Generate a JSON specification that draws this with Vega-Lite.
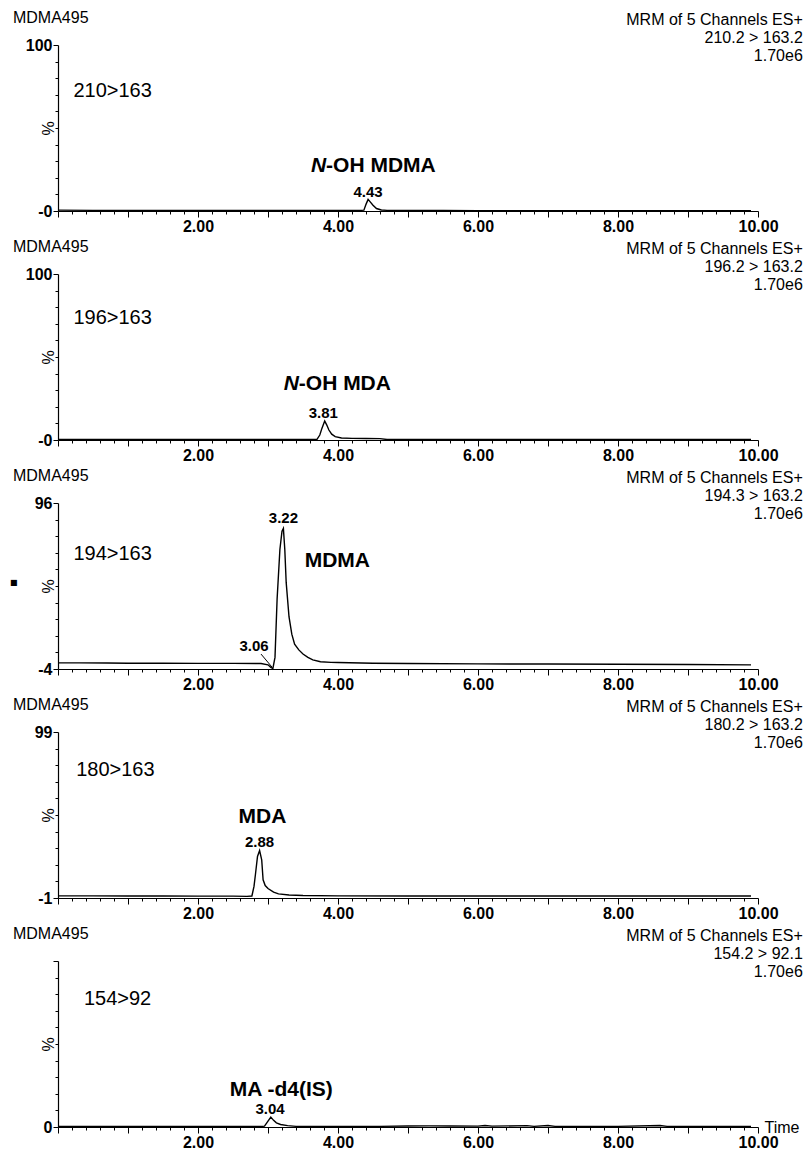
{
  "$schema": "https://vega.github.io/schema/vega-lite/v6.json",
  "padding": {"left": 10, "top": 10, "right": 4, "bottom": 4},
  "bounds": "flush",
  "spacing": 63,
  "config": {
    "font": "Liberation Sans",
    "view": {"stroke": null},
    "axis": {"domainColor": "black", "tickColor": "black", "labelColor": "black", "titleColor": "black", "grid": false, "labelFont": "Liberation Sans", "titleFont": "Liberation Sans", "domainWidth": 1.2, "tickWidth": 1},
    "text": {"color": "black", "font": "Liberation Sans"},
    "title": {"color": "black", "font": "Liberation Sans"}
  },
  "datasets": {
    "trace": [
      {"p":1,"t":0,"v":0.5},{"p":1,"t":0.5,"v":0.4},{"p":1,"t":1,"v":0.4},{"p":1,"t":1.5,"v":0.3},{"p":1,"t":2,"v":0.3},{"p":1,"t":2.5,"v":0.3},{"p":1,"t":3,"v":0.3},{"p":1,"t":3.5,"v":0.3},{"p":1,"t":4,"v":0.3},{"p":1,"t":4.3,"v":0.3},{"p":1,"t":4.37,"v":0.5},{"p":1,"t":4.4,"v":4},{"p":1,"t":4.43,"v":7},{"p":1,"t":4.46,"v":5.5},{"p":1,"t":4.5,"v":3.5},{"p":1,"t":4.55,"v":1.5},{"p":1,"t":4.62,"v":0.6},{"p":1,"t":4.7,"v":0.4},{"p":1,"t":5,"v":0.3},{"p":1,"t":5.5,"v":0.3},{"p":1,"t":6,"v":0.2},{"p":1,"t":7,"v":0.2},{"p":1,"t":8,"v":0.2},{"p":1,"t":9,"v":0.2},{"p":1,"t":9.9,"v":0.2},
      {"p":2,"t":0,"v":0.3},{"p":2,"t":1,"v":0.3},{"p":2,"t":2,"v":0.3},{"p":2,"t":3,"v":0.3},{"p":2,"t":3.5,"v":0.3},{"p":2,"t":3.7,"v":0.4},{"p":2,"t":3.74,"v":3},{"p":2,"t":3.77,"v":7},{"p":2,"t":3.81,"v":11.5},{"p":2,"t":3.84,"v":9},{"p":2,"t":3.87,"v":6},{"p":2,"t":3.91,"v":3.5},{"p":2,"t":3.96,"v":2},{"p":2,"t":4.05,"v":1.2},{"p":2,"t":4.2,"v":1},{"p":2,"t":4.4,"v":0.9},{"p":2,"t":4.6,"v":0.8},{"p":2,"t":4.7,"v":0.3},{"p":2,"t":5,"v":0.3},{"p":2,"t":6,"v":0.3},{"p":2,"t":7,"v":0.3},{"p":2,"t":8,"v":0.3},{"p":2,"t":9,"v":0.3},{"p":2,"t":9.9,"v":0.3},
      {"p":3,"t":0,"v":-0.3},{"p":3,"t":0.3,"v":-0.3},{"p":3,"t":0.7,"v":-0.4},{"p":3,"t":1,"v":-0.5},{"p":3,"t":1.5,"v":-0.5},{"p":3,"t":2,"v":-0.6},{"p":3,"t":2.5,"v":-0.6},{"p":3,"t":2.9,"v":-0.7},{"p":3,"t":3,"v":-1.5},{"p":3,"t":3.04,"v":-3},{"p":3,"t":3.07,"v":-3.7},{"p":3,"t":3.1,"v":3},{"p":3,"t":3.13,"v":38},{"p":3,"t":3.17,"v":68},{"p":3,"t":3.2,"v":79},{"p":3,"t":3.22,"v":80.7},{"p":3,"t":3.24,"v":68},{"p":3,"t":3.26,"v":48},{"p":3,"t":3.3,"v":27.5},{"p":3,"t":3.34,"v":17},{"p":3,"t":3.38,"v":11},{"p":3,"t":3.44,"v":7.5},{"p":3,"t":3.5,"v":5},{"p":3,"t":3.57,"v":3},{"p":3,"t":3.64,"v":1.5},{"p":3,"t":3.75,"v":0.4},{"p":3,"t":3.9,"v":0},{"p":3,"t":4,"v":-0.1},{"p":3,"t":4.5,"v":-0.5},{"p":3,"t":5,"v":-0.7},{"p":3,"t":6,"v":-0.9},{"p":3,"t":7,"v":-1},{"p":3,"t":8,"v":-1.1},{"p":3,"t":9,"v":-1.3},{"p":3,"t":9.9,"v":-1.5},
      {"p":4,"t":0,"v":0.3},{"p":4,"t":0.5,"v":0.3},{"p":4,"t":1,"v":0.2},{"p":4,"t":1.5,"v":0.2},{"p":4,"t":2,"v":0.1},{"p":4,"t":2.5,"v":0.1},{"p":4,"t":2.7,"v":0},{"p":4,"t":2.77,"v":0.2},{"p":4,"t":2.8,"v":6},{"p":4,"t":2.82,"v":13},{"p":4,"t":2.85,"v":24},{"p":4,"t":2.88,"v":27.6},{"p":4,"t":2.91,"v":22},{"p":4,"t":2.93,"v":10},{"p":4,"t":2.96,"v":6.5},{"p":4,"t":3,"v":4.7},{"p":4,"t":3.08,"v":2.5},{"p":4,"t":3.15,"v":1.5},{"p":4,"t":3.3,"v":0.8},{"p":4,"t":3.5,"v":0.5},{"p":4,"t":4,"v":0.3},{"p":4,"t":5,"v":0.2},{"p":4,"t":6,"v":0.2},{"p":4,"t":7,"v":0.2},{"p":4,"t":8,"v":0.2},{"p":4,"t":9,"v":0.2},{"p":4,"t":9.9,"v":0.2},
      {"p":5,"t":0,"v":0.3},{"p":5,"t":1,"v":0.3},{"p":5,"t":2,"v":0.3},{"p":5,"t":2.9,"v":0.3},{"p":5,"t":2.95,"v":0.5},{"p":5,"t":3,"v":3.5},{"p":5,"t":3.04,"v":6},{"p":5,"t":3.08,"v":4},{"p":5,"t":3.12,"v":2.5},{"p":5,"t":3.18,"v":1.5},{"p":5,"t":3.28,"v":0.8},{"p":5,"t":3.4,"v":0.4},{"p":5,"t":4,"v":0.3},{"p":5,"t":4.6,"v":0.4},{"p":5,"t":5,"v":0.6},{"p":5,"t":5.3,"v":0.7},{"p":5,"t":5.6,"v":0.6},{"p":5,"t":6,"v":0.5},{"p":5,"t":6.1,"v":0.9},{"p":5,"t":6.2,"v":0.5},{"p":5,"t":6.7,"v":0.8},{"p":5,"t":6.8,"v":0.4},{"p":5,"t":7,"v":0.9},{"p":5,"t":7.1,"v":0.4},{"p":5,"t":8,"v":0.4},{"p":5,"t":8.6,"v":0.9},{"p":5,"t":8.7,"v":0.4},{"p":5,"t":9.5,"v":0.3},{"p":5,"t":9.9,"v":0.3}
    ]
  },
  "vconcat": [
    {
      "width": 700, "height": 166,
      "resolve": {"axis": {"x": "independent", "y": "independent"}},
      "layer": [
        {
          "data": {"name": "trace"},
          "transform": [{"filter": "datum.p == 1"}],
          "mark": {"type": "line", "color": "black", "strokeWidth": 1.4},
          "encoding": {
            "x": {"field": "t", "type": "quantitative", "scale": {"domain": [0, 10], "nice": false, "zero": false},
              "axis": {"title": null, "values": [0,0.2,0.4,0.6,0.8,1,1.2,1.4,1.6,1.8,2,2.2,2.4,2.6,2.8,3,3.2,3.4,3.6,3.8,4,4.2,4.4,4.6,4.8,5,5.2,5.4,5.6,5.8,6,6.2,6.4,6.6,6.8,7,7.2,7.4,7.6,7.8,8,8.2,8.4,8.6,8.8,9,9.2,9.4,9.6,9.8,10],
                "labelExpr": "datum.value > 0.5 && abs(datum.value/2 - round(datum.value/2)) < 0.01 ? format(datum.value, '.2f') : ''",
                "labelOverlap": false, "labelFlush": false, "labelFontSize": 16, "labelFontWeight": "bold", "labelPadding": 1,
                "tickSize": {"condition": {"test": "abs(datum.value - round(datum.value)) < 0.01", "value": 6}, "value": 3}}},
            "y": {"field": "v", "type": "quantitative", "scale": {"domain": [0, 100], "nice": false, "zero": false},
              "axis": {"title": "%", "titleX": -10, "titleY": 83, "titleFontSize": 16, "titleFontWeight": "normal", "titleBaseline": "middle", "titleAlign": "center",
                "values": [0,10,20,30,40,50,60,70,80,90,100],
                "labelExpr": "datum.value == 100 ? '100' : datum.value == 0 ? '-0' : ''",
                "labelOverlap": false, "labelFlush": false, "labelFontSize": 16, "labelFontWeight": "bold", "labelPadding": 1,
                "tickSize": {"condition": {"test": "datum.value == 0 || datum.value == 100", "value": 5}, "value": 3}}}
          }
        },
        {"data": {"values": [{}]}, "mark": {"type": "text", "align": "left", "baseline": "middle", "fontSize": 16, "dy": -27},
          "encoding": {"x": {"datum": -0.643, "axis": null}, "y": {"datum": 100, "axis": null}, "text": {"value": "MDMA495"}}},
        {"data": {"values": [{}]}, "mark": {"type": "text", "align": "left", "baseline": "middle", "fontSize": 20},
          "encoding": {"x": {"datum": 0.22, "axis": null}, "y": {"datum": 72, "axis": null}, "text": {"value": "210>163"}}},
        {"data": {"values": [{}]}, "mark": {"type": "text", "align": "right", "baseline": "middle", "fontSize": 21, "fontWeight": "bold", "fontStyle": "italic"},
          "encoding": {"x": {"datum": 3.83, "axis": null}, "y": {"datum": 27.4, "axis": null}, "text": {"value": "N"}}},
        {"data": {"values": [{}]}, "mark": {"type": "text", "align": "left", "baseline": "middle", "fontSize": 21, "fontWeight": "bold"},
          "encoding": {"x": {"datum": 3.83, "axis": null}, "y": {"datum": 27.4, "axis": null}, "text": {"value": "-OH MDMA"}}},
        {"data": {"values": [{}]}, "mark": {"type": "text", "align": "center", "baseline": "middle", "fontSize": 15, "fontWeight": "bold"},
          "encoding": {"x": {"datum": 4.43, "axis": null}, "y": {"datum": 11.5, "axis": null}, "text": {"value": "4.43"}}},
        {"data": {"values": [{}]}, "mark": {"type": "text", "align": "right", "baseline": "middle", "fontSize": 16, "lineHeight": 18, "dy": -25},
          "encoding": {"x": {"datum": 10.64, "axis": null}, "y": {"datum": 100, "axis": null}, "text": {"value": ["MRM of 5 Channels ES+", "210.2 > 163.2", "1.70e6"]}}}
      ]
    },
    {
      "width": 700, "height": 166,
      "resolve": {"axis": {"x": "independent", "y": "independent"}},
      "layer": [
        {
          "data": {"name": "trace"},
          "transform": [{"filter": "datum.p == 2"}],
          "mark": {"type": "line", "color": "black", "strokeWidth": 1.4},
          "encoding": {
            "x": {"field": "t", "type": "quantitative", "scale": {"domain": [0, 10], "nice": false, "zero": false},
              "axis": {"title": null, "values": [0,0.2,0.4,0.6,0.8,1,1.2,1.4,1.6,1.8,2,2.2,2.4,2.6,2.8,3,3.2,3.4,3.6,3.8,4,4.2,4.4,4.6,4.8,5,5.2,5.4,5.6,5.8,6,6.2,6.4,6.6,6.8,7,7.2,7.4,7.6,7.8,8,8.2,8.4,8.6,8.8,9,9.2,9.4,9.6,9.8,10],
                "labelExpr": "datum.value > 0.5 && abs(datum.value/2 - round(datum.value/2)) < 0.01 ? format(datum.value, '.2f') : ''",
                "labelOverlap": false, "labelFlush": false, "labelFontSize": 16, "labelFontWeight": "bold", "labelPadding": 1,
                "tickSize": {"condition": {"test": "abs(datum.value - round(datum.value)) < 0.01", "value": 6}, "value": 3}}},
            "y": {"field": "v", "type": "quantitative", "scale": {"domain": [0, 100], "nice": false, "zero": false},
              "axis": {"title": "%", "titleX": -10, "titleY": 83, "titleFontSize": 16, "titleFontWeight": "normal", "titleBaseline": "middle", "titleAlign": "center",
                "values": [0,10,20,30,40,50,60,70,80,90,100],
                "labelExpr": "datum.value == 100 ? '100' : datum.value == 0 ? '-0' : ''",
                "labelOverlap": false, "labelFlush": false, "labelFontSize": 16, "labelFontWeight": "bold", "labelPadding": 1,
                "tickSize": {"condition": {"test": "datum.value == 0 || datum.value == 100", "value": 5}, "value": 3}}}
          }
        },
        {"data": {"values": [{}]}, "mark": {"type": "text", "align": "left", "baseline": "middle", "fontSize": 16, "dy": -27},
          "encoding": {"x": {"datum": -0.643, "axis": null}, "y": {"datum": 100, "axis": null}, "text": {"value": "MDMA495"}}},
        {"data": {"values": [{}]}, "mark": {"type": "text", "align": "left", "baseline": "middle", "fontSize": 20},
          "encoding": {"x": {"datum": 0.22, "axis": null}, "y": {"datum": 73.6, "axis": null}, "text": {"value": "196>163"}}},
        {"data": {"values": [{}]}, "mark": {"type": "text", "align": "right", "baseline": "middle", "fontSize": 21, "fontWeight": "bold", "fontStyle": "italic"},
          "encoding": {"x": {"datum": 3.44, "axis": null}, "y": {"datum": 33.7, "axis": null}, "text": {"value": "N"}}},
        {"data": {"values": [{}]}, "mark": {"type": "text", "align": "left", "baseline": "middle", "fontSize": 21, "fontWeight": "bold"},
          "encoding": {"x": {"datum": 3.44, "axis": null}, "y": {"datum": 33.7, "axis": null}, "text": {"value": "-OH MDA"}}},
        {"data": {"values": [{}]}, "mark": {"type": "text", "align": "center", "baseline": "middle", "fontSize": 15, "fontWeight": "bold"},
          "encoding": {"x": {"datum": 3.79, "axis": null}, "y": {"datum": 16, "axis": null}, "text": {"value": "3.81"}}},
        {"data": {"values": [{}]}, "mark": {"type": "text", "align": "right", "baseline": "middle", "fontSize": 16, "lineHeight": 18, "dy": -25},
          "encoding": {"x": {"datum": 10.64, "axis": null}, "y": {"datum": 100, "axis": null}, "text": {"value": ["MRM of 5 Channels ES+", "196.2 > 163.2", "1.70e6"]}}}
      ]
    },
    {
      "width": 700, "height": 166,
      "resolve": {"axis": {"x": "independent", "y": "independent"}},
      "layer": [
        {
          "data": {"name": "trace"},
          "transform": [{"filter": "datum.p == 3"}],
          "mark": {"type": "line", "color": "black", "strokeWidth": 1.4},
          "encoding": {
            "x": {"field": "t", "type": "quantitative", "scale": {"domain": [0, 10], "nice": false, "zero": false},
              "axis": {"title": null, "values": [0,0.2,0.4,0.6,0.8,1,1.2,1.4,1.6,1.8,2,2.2,2.4,2.6,2.8,3,3.2,3.4,3.6,3.8,4,4.2,4.4,4.6,4.8,5,5.2,5.4,5.6,5.8,6,6.2,6.4,6.6,6.8,7,7.2,7.4,7.6,7.8,8,8.2,8.4,8.6,8.8,9,9.2,9.4,9.6,9.8,10],
                "labelExpr": "datum.value > 0.5 && abs(datum.value/2 - round(datum.value/2)) < 0.01 ? format(datum.value, '.2f') : ''",
                "labelOverlap": false, "labelFlush": false, "labelFontSize": 16, "labelFontWeight": "bold", "labelPadding": 1,
                "tickSize": {"condition": {"test": "abs(datum.value - round(datum.value)) < 0.01", "value": 6}, "value": 3}}},
            "y": {"field": "v", "type": "quantitative", "scale": {"domain": [-4, 96], "nice": false, "zero": false},
              "axis": {"title": "%", "titleX": -10, "titleY": 83, "titleFontSize": 16, "titleFontWeight": "normal", "titleBaseline": "middle", "titleAlign": "center",
                "values": [-4,6,16,26,36,46,56,66,76,86,96],
                "labelExpr": "datum.value == 96 ? '96' : datum.value == -4 ? '-4' : ''",
                "labelOverlap": false, "labelFlush": false, "labelFontSize": 16, "labelFontWeight": "bold", "labelPadding": 1,
                "tickSize": {"condition": {"test": "datum.value == -4 || datum.value == 96", "value": 5}, "value": 3}}}
          }
        },
        {"data": {"values": [{}]}, "mark": {"type": "text", "align": "left", "baseline": "middle", "fontSize": 16, "dy": -27},
          "encoding": {"x": {"datum": -0.643, "axis": null}, "y": {"datum": 96, "axis": null}, "text": {"value": "MDMA495"}}},
        {"data": {"values": [{}]}, "mark": {"type": "text", "align": "left", "baseline": "middle", "fontSize": 20},
          "encoding": {"x": {"datum": 0.22, "axis": null}, "y": {"datum": 65, "axis": null}, "text": {"value": "194>163"}}},
        {"data": {"values": [{}]}, "mark": {"type": "text", "align": "center", "baseline": "middle", "fontSize": 21, "fontWeight": "bold"},
          "encoding": {"x": {"datum": 3.99, "axis": null}, "y": {"datum": 61, "axis": null}, "text": {"value": "MDMA"}}},
        {"data": {"values": [{}]}, "mark": {"type": "text", "align": "center", "baseline": "middle", "fontSize": 15, "fontWeight": "bold"},
          "encoding": {"x": {"datum": 3.22, "axis": null}, "y": {"datum": 87, "axis": null}, "text": {"value": "3.22"}}},
        {"data": {"values": [{}]}, "mark": {"type": "text", "align": "center", "baseline": "middle", "fontSize": 15, "fontWeight": "bold"},
          "encoding": {"x": {"datum": 2.8, "axis": null}, "y": {"datum": 10, "axis": null}, "text": {"value": "3.06"}}},
        {"data": {"values": [{}]}, "mark": {"type": "rule", "color": "black", "strokeWidth": 1},
          "encoding": {"x": {"datum": 2.9, "axis": null}, "y": {"datum": 5, "axis": null}, "x2": {"datum": 3.06}, "y2": {"datum": -3}}},
        {"data": {"values": [{}]}, "mark": {"type": "text", "align": "center", "baseline": "middle", "fontSize": 8, "font": "DejaVu Sans"},
          "encoding": {"x": {"datum": -0.63, "axis": null}, "y": {"datum": 48, "axis": null}, "text": {"value": "■"}}},
        {"data": {"values": [{}]}, "mark": {"type": "text", "align": "right", "baseline": "middle", "fontSize": 16, "lineHeight": 18, "dy": -25},
          "encoding": {"x": {"datum": 10.64, "axis": null}, "y": {"datum": 96, "axis": null}, "text": {"value": ["MRM of 5 Channels ES+", "194.3 > 163.2", "1.70e6"]}}}
      ]
    },
    {
      "width": 700, "height": 166,
      "resolve": {"axis": {"x": "independent", "y": "independent"}},
      "layer": [
        {
          "data": {"name": "trace"},
          "transform": [{"filter": "datum.p == 4"}],
          "mark": {"type": "line", "color": "black", "strokeWidth": 1.4},
          "encoding": {
            "x": {"field": "t", "type": "quantitative", "scale": {"domain": [0, 10], "nice": false, "zero": false},
              "axis": {"title": null, "values": [0,0.2,0.4,0.6,0.8,1,1.2,1.4,1.6,1.8,2,2.2,2.4,2.6,2.8,3,3.2,3.4,3.6,3.8,4,4.2,4.4,4.6,4.8,5,5.2,5.4,5.6,5.8,6,6.2,6.4,6.6,6.8,7,7.2,7.4,7.6,7.8,8,8.2,8.4,8.6,8.8,9,9.2,9.4,9.6,9.8,10],
                "labelExpr": "datum.value > 0.5 && abs(datum.value/2 - round(datum.value/2)) < 0.01 ? format(datum.value, '.2f') : ''",
                "labelOverlap": false, "labelFlush": false, "labelFontSize": 16, "labelFontWeight": "bold", "labelPadding": 1,
                "tickSize": {"condition": {"test": "abs(datum.value - round(datum.value)) < 0.01", "value": 6}, "value": 3}}},
            "y": {"field": "v", "type": "quantitative", "scale": {"domain": [-1, 99], "nice": false, "zero": false},
              "axis": {"title": "%", "titleX": -10, "titleY": 83, "titleFontSize": 16, "titleFontWeight": "normal", "titleBaseline": "middle", "titleAlign": "center",
                "values": [-1,9,19,29,39,49,59,69,79,89,99],
                "labelExpr": "datum.value == 99 ? '99' : datum.value == -1 ? '-1' : ''",
                "labelOverlap": false, "labelFlush": false, "labelFontSize": 16, "labelFontWeight": "bold", "labelPadding": 1,
                "tickSize": {"condition": {"test": "datum.value == -1 || datum.value == 99", "value": 5}, "value": 3}}}
          }
        },
        {"data": {"values": [{}]}, "mark": {"type": "text", "align": "left", "baseline": "middle", "fontSize": 16, "dy": -27},
          "encoding": {"x": {"datum": -0.643, "axis": null}, "y": {"datum": 99, "axis": null}, "text": {"value": "MDMA495"}}},
        {"data": {"values": [{}]}, "mark": {"type": "text", "align": "left", "baseline": "middle", "fontSize": 20},
          "encoding": {"x": {"datum": 0.26, "axis": null}, "y": {"datum": 76.3, "axis": null}, "text": {"value": "180>163"}}},
        {"data": {"values": [{}]}, "mark": {"type": "text", "align": "center", "baseline": "middle", "fontSize": 21, "fontWeight": "bold"},
          "encoding": {"x": {"datum": 2.92, "axis": null}, "y": {"datum": 47.6, "axis": null}, "text": {"value": "MDA"}}},
        {"data": {"values": [{}]}, "mark": {"type": "text", "align": "center", "baseline": "middle", "fontSize": 15, "fontWeight": "bold"},
          "encoding": {"x": {"datum": 2.88, "axis": null}, "y": {"datum": 32.5, "axis": null}, "text": {"value": "2.88"}}},
        {"data": {"values": [{}]}, "mark": {"type": "text", "align": "right", "baseline": "middle", "fontSize": 16, "lineHeight": 18, "dy": -25},
          "encoding": {"x": {"datum": 10.64, "axis": null}, "y": {"datum": 99, "axis": null}, "text": {"value": ["MRM of 5 Channels ES+", "180.2 > 163.2", "1.70e6"]}}}
      ]
    },
    {
      "width": 700, "height": 166,
      "resolve": {"axis": {"x": "independent", "y": "independent"}},
      "layer": [
        {
          "data": {"name": "trace"},
          "transform": [{"filter": "datum.p == 5"}],
          "mark": {"type": "line", "color": "black", "strokeWidth": 1.4},
          "encoding": {
            "x": {"field": "t", "type": "quantitative", "scale": {"domain": [0, 10], "nice": false, "zero": false},
              "axis": {"title": "Time", "titleX": 706, "titleY": 0, "titleAlign": "left", "titleBaseline": "middle", "titleFontSize": 16, "titleFontWeight": "normal",
                "values": [0,0.2,0.4,0.6,0.8,1,1.2,1.4,1.6,1.8,2,2.2,2.4,2.6,2.8,3,3.2,3.4,3.6,3.8,4,4.2,4.4,4.6,4.8,5,5.2,5.4,5.6,5.8,6,6.2,6.4,6.6,6.8,7,7.2,7.4,7.6,7.8,8,8.2,8.4,8.6,8.8,9,9.2,9.4,9.6,9.8,10],
                "labelExpr": "datum.value > 0.5 && abs(datum.value/2 - round(datum.value/2)) < 0.01 ? format(datum.value, '.2f') : ''",
                "labelOverlap": false, "labelFlush": false, "labelFontSize": 16, "labelFontWeight": "bold", "labelPadding": 1,
                "tickSize": {"condition": {"test": "abs(datum.value - round(datum.value)) < 0.01", "value": 6}, "value": 3}}},
            "y": {"field": "v", "type": "quantitative", "scale": {"domain": [0, 100], "nice": false, "zero": false},
              "axis": {"title": "%", "titleX": -10, "titleY": 83, "titleFontSize": 16, "titleFontWeight": "normal", "titleBaseline": "middle", "titleAlign": "center",
                "values": [0,10,20,30,40,50,60,70,80,90,100],
                "labelExpr": "datum.value == 0 ? '0' : ''",
                "labelOverlap": false, "labelFlush": false, "labelFontSize": 16, "labelFontWeight": "bold", "labelPadding": 1,
                "tickSize": {"condition": {"test": "datum.value == 0 || datum.value == 100", "value": 5}, "value": 3}}}
          }
        },
        {"data": {"values": [{}]}, "mark": {"type": "text", "align": "left", "baseline": "middle", "fontSize": 16, "dy": -27},
          "encoding": {"x": {"datum": -0.643, "axis": null}, "y": {"datum": 100, "axis": null}, "text": {"value": "MDMA495"}}},
        {"data": {"values": [{}]}, "mark": {"type": "text", "align": "left", "baseline": "middle", "fontSize": 20},
          "encoding": {"x": {"datum": 0.37, "axis": null}, "y": {"datum": 77, "axis": null}, "text": {"value": "154>92"}}},
        {"data": {"values": [{}]}, "mark": {"type": "text", "align": "center", "baseline": "middle", "fontSize": 21, "fontWeight": "bold"},
          "encoding": {"x": {"datum": 3.19, "axis": null}, "y": {"datum": 22, "axis": null}, "text": {"value": "MA -d4(IS)"}}},
        {"data": {"values": [{}]}, "mark": {"type": "text", "align": "center", "baseline": "middle", "fontSize": 15, "fontWeight": "bold"},
          "encoding": {"x": {"datum": 3.03, "axis": null}, "y": {"datum": 11, "axis": null}, "text": {"value": "3.04"}}},
        {"data": {"values": [{}]}, "mark": {"type": "text", "align": "right", "baseline": "middle", "fontSize": 16, "lineHeight": 18, "dy": -25},
          "encoding": {"x": {"datum": 10.64, "axis": null}, "y": {"datum": 100, "axis": null}, "text": {"value": ["MRM of 5 Channels ES+", "154.2 > 92.1", "1.70e6"]}}}
      ]
    }
  ]
}
